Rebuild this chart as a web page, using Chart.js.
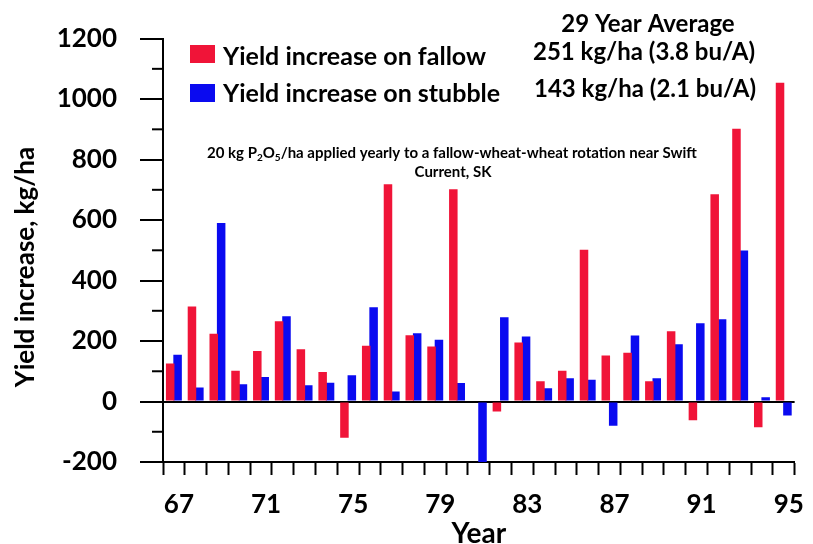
<!DOCTYPE html>
<html>
<head>
<meta charset="utf-8">
<script src="https://cdn.jsdelivr.net/npm/chart.js@4.4.1/dist/chart.umd.min.js"></script>
<style>
  body { margin: 0; background: #fff; }
  #wrap { width: 813px; height: 544px; }
</style>
</head>
<body>
<div id="wrap"><canvas id="chart" width="813" height="544"></canvas></div>
<script>
// years of the rotation (67 = 1967)
const years = [67, 68, 69, 70, 71, 72, 73, 74, 75, 76, 77, 78, 79, 80, 81,
  82, 83, 84, 85, 86, 87, 88, 89, 90, 91, 92, 93, 94, 95];

// yield increase, kg/ha
const fallow = [126, 314, 224, 102, 167, 265, 173, 98, -120, 184, 718, 219, 182, 702, 0,
  -33, 195, 67, 102, 502, 152, 161, 67, 232, -62, 685, 902, -85, 1054];
const stubble = [155, 46, 590, 57, 81, 282, 54, 62, 87, 312, 33, 226, 204, 61, -200,
  279, 215, 44, 77, 72, -80, 218, 77, 189, 259, 272, 499, 14, -46];

const seriesNames = ["Yield increase on fallow", "Yield increase on stubble"];
const averages = ["251 kg/ha (3.8 bu/A)", "143 kg/ha (2.1 bu/A)"];
const yTicks = [-200, 0, 200, 400, 600, 800, 1000, 1200];

const RED = "#f01438";
const BLUE = "#0a0af0";
const FONT = "Lato";

// texts, legend and minor ticks
const extras = {
  id: "extras",
  afterDraw(chart) {
    const ctx = chart.ctx;
    const y = chart.scales.y;
    const area = chart.chartArea;
    ctx.save();

    // minor ticks on the y axis
    ctx.strokeStyle = "#000";
    ctx.lineWidth = 2;
    for (let i = 0; i < yTicks.length - 1; i++) {
      const py = y.getPixelForValue((yTicks[i] + yTicks[i + 1]) / 2);
      ctx.beginPath();
      ctx.moveTo(area.left - 11, py);
      ctx.lineTo(area.left, py);
      ctx.stroke();
    }

    ctx.fillStyle = "#000";
    ctx.textBaseline = "alphabetic";

    // legend
    ctx.font = "bold 25px " + FONT;
    ctx.textAlign = "left";
    ctx.fillStyle = RED;
    ctx.fillRect(190, 45, 25, 18);
    ctx.fillStyle = BLUE;
    ctx.fillRect(190, 84, 25, 18);
    ctx.fillStyle = "#000";
    ctx.fillText(seriesNames[0], 223, 65);
    ctx.fillText(seriesNames[1], 223, 102);

    // averages
    ctx.font = "bold 24px " + FONT;
    ctx.textAlign = "center";
    ctx.fillText("29 Year Average", 648, 32);
    ctx.fillText(averages[0], 644, 60);
    ctx.fillText(averages[1], 645, 97);

    // note with subscripts
    const parts = [["20 kg P", 0], ["2", 1], ["O", 0], ["5", 1],
      ["/ha applied yearly to a fallow-wheat-wheat rotation near Swift", 0]];
    const big = "bold 15px " + FONT, small = "bold 10px " + FONT;
    let w = 0;
    parts.forEach(([t, s]) => { ctx.font = s ? small : big; w += ctx.measureText(t).width; });
    let x = 452 - w / 2;
    ctx.textAlign = "left";
    parts.forEach(([t, s]) => {
      ctx.font = s ? small : big;
      ctx.fillText(t, x, s ? 161 : 158);
      x += ctx.measureText(t).width;
    });
    ctx.font = big;
    ctx.textAlign = "center";
    ctx.fillText("Current, SK", 453, 177);

    // y axis title
    ctx.translate(26, 267);
    ctx.rotate(-Math.PI / 2);
    ctx.font = "bold 26px " + FONT;
    ctx.textBaseline = "middle";
    ctx.fillText("Yield increase, kg/ha", 0, 0);
    ctx.restore();
  }
};

new Chart("chart", {
  type: "bar",
  data: {
    labels: years,
    datasets: [
      { label: seriesNames[0], data: fallow, backgroundColor: RED },
      { label: seriesNames[1], data: stubble, backgroundColor: BLUE }
    ]
  },
  options: {
    responsive: false,
    animation: false,
    categoryPercentage: 0.68,
    barPercentage: 1.15,
    layout: { padding: { top: 37, right: 11, left: 0, bottom: 0 } },
    plugins: {
      legend: { display: false },
      tooltip: { enabled: false }
    },
    scales: {
      x: {
        afterFit: (s) => { s.height = 82; },
        grid: {
          offset: true,
          drawOnChartArea: false,
          tickLength: 13,
          tickColor: "#000",
          tickWidth: 2
        },
        border: { display: true, color: "#000", width: 2 },
        ticks: {
          autoSkip: false,
          maxRotation: 0,
          labelOffset: 5,
          padding: 14,
          color: "#000",
          font: { family: FONT, size: 26, weight: "bold" },
          callback: (v, i) => (i % 4 === 0 ? String(years[i]) : "")
        },
        title: {
          display: true,
          text: "Year",
          color: "#000",
          font: { family: FONT, size: 28, weight: "bold", lineHeight: 0.7 },
          padding: { top: 0, bottom: 0 }
        }
      },
      y: {
        min: yTicks[0],
        max: yTicks[yTicks.length - 1],
        afterFit: (s) => { s.width = 163; },
        afterBuildTicks: (s) => { s.ticks = yTicks.map((v) => ({ value: v })); },
        grid: {
          color: (c) => (c.tick && c.tick.value === 0 ? "#000" : "rgba(0,0,0,0)"),
          lineWidth: 2,
          tickLength: 23,
          tickColor: "#000",
          tickWidth: 2
        },
        border: { display: true, color: "#000", width: 2 },
        ticks: {
          padding: 23,
          color: "#000",
          font: { family: FONT, size: 26, weight: "bold" },
          callback: (v) => String(v)
        }
      }
    }
  },
  plugins: [extras]
});
</script>
</body>
</html>
